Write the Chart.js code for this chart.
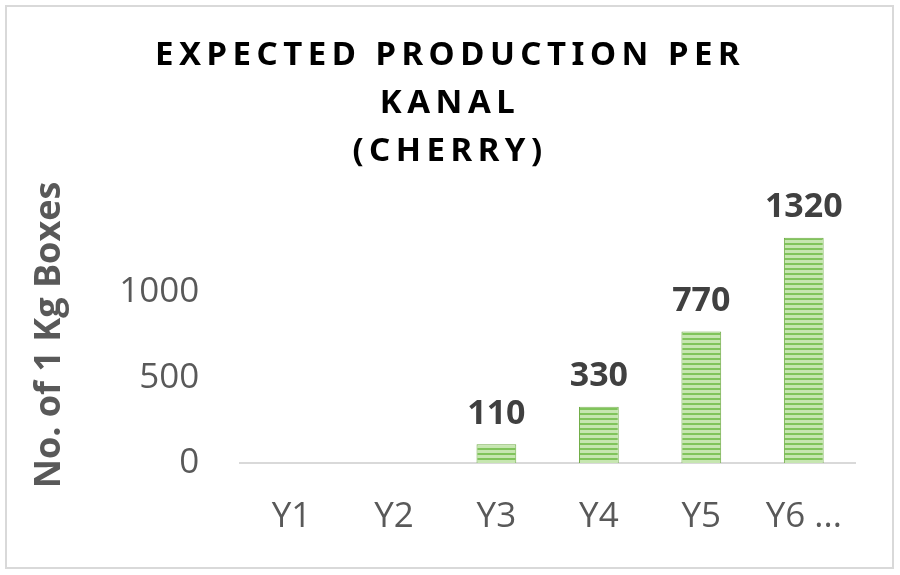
<!DOCTYPE html>
<html>
<head>
<meta charset="utf-8">
<script src="https://cdn.jsdelivr.net/npm/chart.js@4.4.1/dist/chart.umd.min.js"></script>
<style>
  html, body { margin: 0; padding: 0; background: #fff; }
  #wrap { width: 900px; height: 575px; }
</style>
</head>
<body>
<div id="wrap"><canvas id="myChart" width="900" height="575"></canvas></div>
<script>
// data
var years = ['Y1', 'Y2', 'Y3', 'Y4', 'Y5', 'Y6 ...'];
var boxes = [0, 0, 110, 330, 770, 1320];
var titleLines = ['EXPECTED PRODUCTION PER', 'KANAL', '(CHERRY)'];
var yTicks = [0, 500, 1000];

// striped green fill like the original
function stripes() {
    var c = document.createElement('canvas');
    c.width = 8; c.height = 5;
    var g = c.getContext('2d');
    g.fillStyle = '#c6e6b0';
    g.fillRect(0, 0, 8, 5);
    g.fillStyle = '#80c45b';
    g.fillRect(0, 3, 8, 2);
    return g.createPattern(c, 'repeat');
}

var chartDecor = {
    id: 'chartDecor',
    afterDraw: function(chart) {
        var ctx = chart.ctx;
        ctx.save();
        // outer frame
        ctx.strokeStyle = '#d9d9d9';
        ctx.lineWidth = 2;
        ctx.strokeRect(6, 6, 887, 562);
        // title, spaced out
        ctx.fillStyle = '#000';
        ctx.font = 'bold 33px "Noto Sans"';
        ctx.letterSpacing = '5.5px';
        ctx.textAlign = 'center';
        ctx.textBaseline = 'middle';
        titleLines.forEach(function(t, i) {
            ctx.fillText(t, 450, 56 + i * 48);
        });
        ctx.letterSpacing = '0px';
        // value labels over the bars
        ctx.font = 'bold 34px "Open Sans"';
        ctx.fillStyle = '#404040';
        ctx.textBaseline = 'bottom';
        var meta = chart.getDatasetMeta(0);
        meta.data.forEach(function(bar, i) {
            if (boxes[i] > 0) ctx.fillText(boxes[i], bar.x, bar.y - 13);
        });
        ctx.restore();
    }
};

var ctx = document.getElementById('myChart').getContext('2d');
var chart = new Chart(ctx, {
    type: 'bar',
    data: {
        labels: years,
        datasets: [{
            data: boxes,
            backgroundColor: stripes(),
            borderColor: '#70ad47',
            borderWidth: 1,
            categoryPercentage: 0.4,
            barPercentage: 0.97
        }]
    },
    options: {
        responsive: false,
        animation: false,
        layout: { padding: { top: 207, left: 7, right: 45, bottom: 12 } },
        plugins: {
            legend: { display: false },
            title: { display: false },
            tooltip: { enabled: false }
        },
        scales: {
            x: {
                grid: { display: false },
                border: { color: '#d9d9d9', width: 2 },
                ticks: { color: '#595959', font: { size: 35, family: 'Open Sans' }, padding: 25 }
            },
            y: {
                min: 0,
                max: 1500,
                afterBuildTicks: function(axis) {
                    axis.ticks = yTicks.map(function(v) { return { value: v }; });
                },
                grid: { display: false },
                border: { display: false },
                ticks: {
                    color: '#595959',
                    font: { size: 35, family: 'Open Sans' },
                    padding: 33,
                    callback: function(v) { return String(v); }
                },
                title: {
                    display: true,
                    text: 'No. of 1 Kg Boxes',
                    color: '#595959',
                    font: { size: 36, weight: 'bold', family: 'Open Sans' },
                    padding: { top: 21, bottom: 15 }
                }
            }
        }
    },
    plugins: [chartDecor]
});
</script>
</body>
</html>
